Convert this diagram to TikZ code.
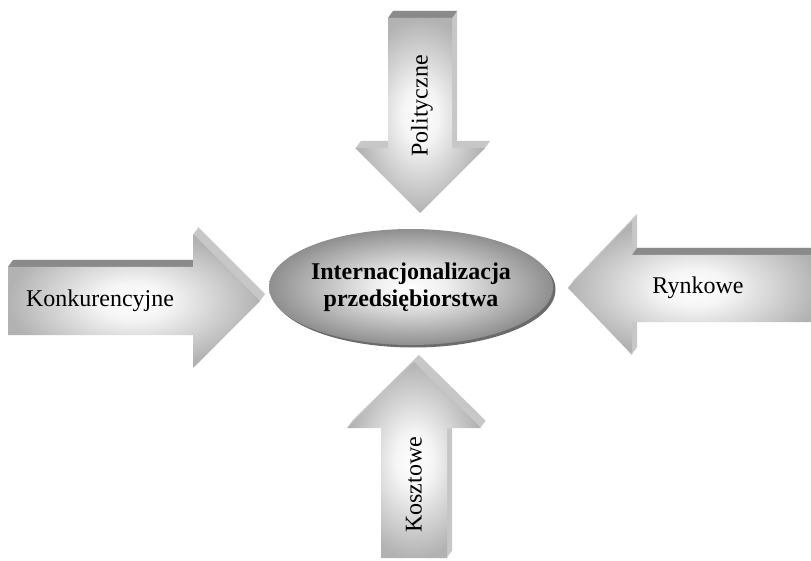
\documentclass[tikz,border=0pt]{standalone}
\usepackage{fontspec}
\setmainfont{Liberation Serif}
\usetikzlibrary{shapes.geometric}
% soft light-centred face of the block arrows
\pgfdeclareradialshading{facesoft}{\pgfpoint{0bp}{0bp}}{%
  color(0bp)=(white); color(7bp)=(black!4); color(25bp)=(black!30); color(50bp)=(black!32)}
% the central oval
\pgfdeclareradialshading{ovalsoft}{\pgfpoint{0bp}{0bp}}{%
  color(0bp)=(white); color(6bp)=(black!6); color(25bp)=(black!44); color(50bp)=(black!46)}
\begin{document}
\begin{tikzpicture}[x=1pt,y=-1pt,
  bevel/.style={fill=black!22},
  bevtop/.style={fill=black!46},
  face/.style={shading=facesoft},
  lbl/.style={font=\fontsize{24}{28}\selectfont, inner sep=0pt},
  oval/.style={ellipse, shading=ovalsoft, minimum width=284pt, minimum height=116pt,
    inner sep=0pt, align=center, font=\fontsize{24}{27}\selectfont\bfseries}]
\useasboundingbox (0,0) rectangle (811,561);
\clip (0,0) rectangle (811,561);

% outlines of the four block arrows (front faces)
\def\arrL{(8,267) -- (193,267) -- (193,234) -- (260,301) -- (193,368) -- (193,335) -- (8,335) -- cycle}
\def\arrR{(820,255) -- (632,255) -- (632,221) -- (568,288) -- (632,355) -- (632,322) -- (820,322) -- cycle}
\def\arrT{(388,18) -- (452,18) -- (452,148) -- (485,148) -- (420,213) -- (355,148) -- (388,148) -- cycle}
\def\arrB{(381,558) -- (381,428) -- (347,428) -- (414,362) -- (481,428) -- (447,428) -- (447,558) -- cycle}

% extruded depth of each arrow (swept up and to the right)
\foreach \k in {1,...,7}{
  \fill[bevel, shift={({5*\k/7},{-\k})}] \arrL;
  \fill[bevel, shift={({5*\k/7},{-\k})}] \arrR;
  \fill[bevel, shift={({5*\k/7},{-\k})}] \arrT;
  \fill[bevel, shift={({5*\k/7},{-\k})}] \arrB;
}
% darker upper faces of the shafts
\fill[bevtop] (8,267) -- (193,267) -- (198,260) -- (13,260) -- cycle;
\fill[bevtop] (632,255) -- (820,255) -- (825,248) -- (637,248) -- cycle;
\fill[bevtop] (388,18) -- (452,18) -- (457,11) -- (393,11) -- cycle;

% front faces
\shade[face] \arrL;
\shade[face] \arrR;
\shade[face] \arrT;
\shade[face] \arrB;

% labels on the arrows
\node[lbl] (konk) at (100,301) {Konkurencyjne};
\node[lbl] (rynk) at (698,288) {Rynkowe};
\node[lbl, rotate=90] (pol) at (422,106) {Polityczne};
\node[lbl, rotate=90] (koszt) at (414,485) {Kosztowe};

% central oval with its dark rim
\fill[black!58] (413.5,289.5) ellipse [x radius=142pt, y radius=58pt];
\node[oval] (core) at (411,287) {Internacjonalizacja\\przedsiębiorstwa};
\end{tikzpicture}
\end{document}
